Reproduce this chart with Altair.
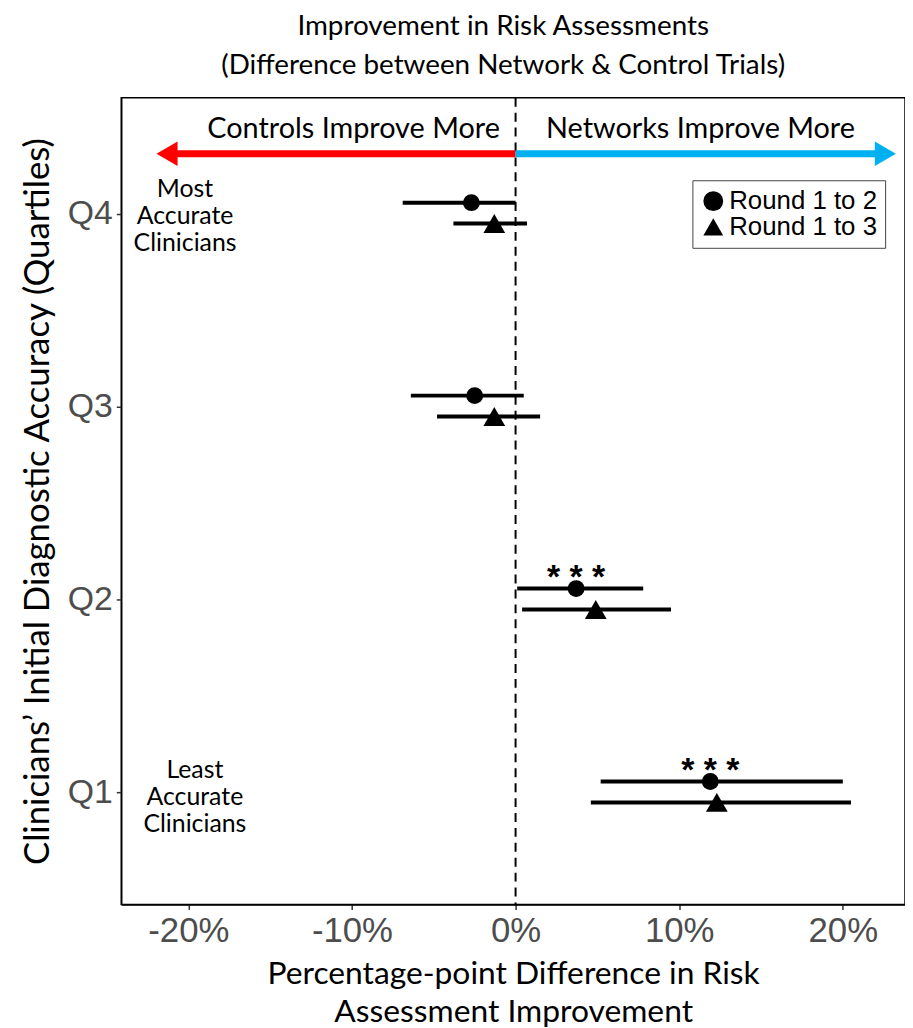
import altair as alt
import pandas as pd

# ---- data ----
quartiles = [4, 3, 2, 1]
rounds = ["Round 1 to 2", "Round 1 to 3"]
est_r12 = [-2.7, -2.5, 3.7, 11.9]
lo_r12 = [-6.9, -6.4, 0.1, 5.2]
hi_r12 = [0.0, 0.5, 7.8, 20.0]
est_r13 = [-1.3, -1.3, 4.9, 12.3]
lo_r13 = [-3.8, -4.8, 0.4, 4.6]
hi_r13 = [0.7, 1.5, 9.5, 20.5]
sig_r12 = ["", "", "* * *", "* * *"]
x_ticks = [-20, -10, 0, 10, 20]
y_ticks = [1, 2, 3, 4]

# annotation texts and their data positions
arrow_labels = ["Controls Improve More", "Networks Improve More"]
arrow_label_x = [-9.9, 11.3]
arrow_label_y = [4.39, 4.39]
arrow_colors = ["#ff0000", "#00b0f0"]
arrow_end_x = [-21.3, 22.6]
arrow_y = [4.31, 4.31]
arrow_shapes = ["triangle-left", "triangle-right"]
side_labels = ["Most\nAccurate\nClinicians", "Least\nAccurate\nClinicians"]
side_label_x = [-20.2, -19.6]
side_label_y = [4.085, 1.074]

rows = []
for i, q in enumerate(quartiles):
    rows.append(dict(q=q, round=rounds[0], est=est_r12[i], lo=lo_r12[i], hi=hi_r12[i], sig=sig_r12[i]))
    rows.append(dict(q=q, round=rounds[1], est=est_r13[i], lo=lo_r13[i], hi=hi_r13[i], sig=""))
df = pd.DataFrame(rows)

arrows = pd.DataFrame(dict(x0=[0, 0], x1=arrow_end_x, y=arrow_y, color=arrow_colors,
                           shape=arrow_shapes, label=arrow_labels,
                           lx=arrow_label_x, ly=arrow_label_y))
sides = pd.DataFrame(dict(text=side_labels, x=side_label_x, y=side_label_y))

xscale = alt.Scale(domain=[-24.1, 23.8], nice=False, zero=False)
yscale = alt.Scale(domain=[0.42, 4.6], nice=False, zero=False)

xenc = alt.X("est:Q", scale=xscale,
             axis=alt.Axis(values=x_ticks, labelExpr="datum.value + '%'",
                           title=["Percentage-point Difference in Risk", "Assessment Improvement"]))
yenc = alt.Y("q:Q", scale=yscale,
             axis=alt.Axis(values=y_ticks, labelExpr="'Q' + datum.value",
                           title="Clinicians\u2019 Initial Diagnostic Accuracy (Quartiles)"))

base = alt.Chart(df)

layers = []
# zero reference line
layers.append(alt.Chart(pd.DataFrame(dict(x=[0]))).mark_rule(
    color="black", strokeWidth=2, strokeDash=[9, 6]).encode(x=alt.X("x:Q", scale=xscale)))

# arrows
ach = alt.Chart(arrows)
layers.append(ach.mark_rule(strokeWidth=7).encode(
    x=alt.X("x0:Q", scale=xscale), x2="x1:Q", y=alt.Y("y:Q", scale=yscale),
    color=alt.Color("color:N", scale=None)))
layers.append(ach.mark_point(filled=True, size=600, opacity=1, strokeWidth=0).encode(
    x=alt.X("x1:Q", scale=xscale), y=alt.Y("y:Q", scale=yscale),
    color=alt.Color("color:N", scale=None), shape=alt.Shape("shape:N", scale=None)))
layers.append(ach.mark_text(font="Lato", fontSize=29, color="black", baseline="alphabetic").encode(
    x=alt.X("lx:Q", scale=xscale), y=alt.Y("ly:Q", scale=yscale), text="label:N"))

# side labels
layers.append(alt.Chart(sides).mark_text(font="Lato", fontSize=25, color="black",
                                         baseline="alphabetic", lineBreak="\n", lineHeight=27).encode(
    x=alt.X("x:Q", scale=xscale), y=alt.Y("y:Q", scale=yscale), text="text:N"))

offsets = {rounds[0]: -11, rounds[1]: 10}
for r in rounds:
    sub = base.transform_filter(alt.datum.round == r)
    layers.append(sub.mark_rule(color="black", strokeWidth=4, yOffset=offsets[r]).encode(
        x=alt.X("lo:Q", scale=xscale), x2="hi:Q", y=alt.Y("q:Q", scale=yscale)))
for r in rounds:
    sub = base.transform_filter(alt.datum.round == r)
    layers.append(sub.mark_point(filled=True, opacity=1, color="black", strokeWidth=0,
                                 size=290 if r == rounds[0] else 480,
                                 yOffset=offsets[r]).encode(
        x=xenc, y=yenc,
        shape=alt.Shape("round:N", scale=alt.Scale(domain=rounds, range=["circle", "triangle-up"]),
                        legend=alt.Legend(title=None, orient="none", legendX=575, legendY=83,
                                          strokeColor="#444", padding=8, fillColor="white",
                                          labelFont="Liberation Sans", labelFontSize=26,
                                          labelColor="black", symbolSize=400, symbolFillColor="black",
                                          symbolStrokeWidth=0, rowPadding=0, labelOffset=3,
                                          symbolOffset=0))))

# significance stars
layers.append(base.transform_filter(alt.datum.round == rounds[0]).mark_text(
    font="Liberation Sans", fontSize=34, fontWeight="bold", color="black",
    baseline="alphabetic", dy=-12).encode(
    x=alt.X("est:Q", scale=xscale), y=alt.Y("q:Q", scale=yscale), text="sig:N"))

chart = alt.layer(*layers).properties(
    width=789, height=812,
    title=alt.TitleParams(["Improvement in Risk Assessments",
                           "(Difference between Network & Control Trials)"],
                          font="Lato", fontSize=28, fontWeight="normal", color="black",
                          lineHeight=39, anchor="middle", offset=17, dx=-10),
    autosize=alt.AutoSizeParams(type="none"),
    padding={"left": 114, "top": 87, "right": 0, "bottom": 121},
).configure_view(stroke="black", strokeWidth=1.5).configure_axis(
    grid=False, domainColor="black", domainWidth=1.5, tickColor="#333", tickSize=5, tickWidth=1.5,
    labelFont="Liberation Sans", labelColor="#4d4d4d", labelPadding=4,
    titleFont="Lato", titleFontWeight="normal", titleColor="black",
).configure_axisY(titlePadding=12, labelFontSize=34, titleFontSize=35).configure_axisX(
    titlePadding=11, titleLineHeight=38, labelFontSize=35, titleFontSize=32)

chart.save("out.html", embed_options={"renderer": "svg", "actions": False})
